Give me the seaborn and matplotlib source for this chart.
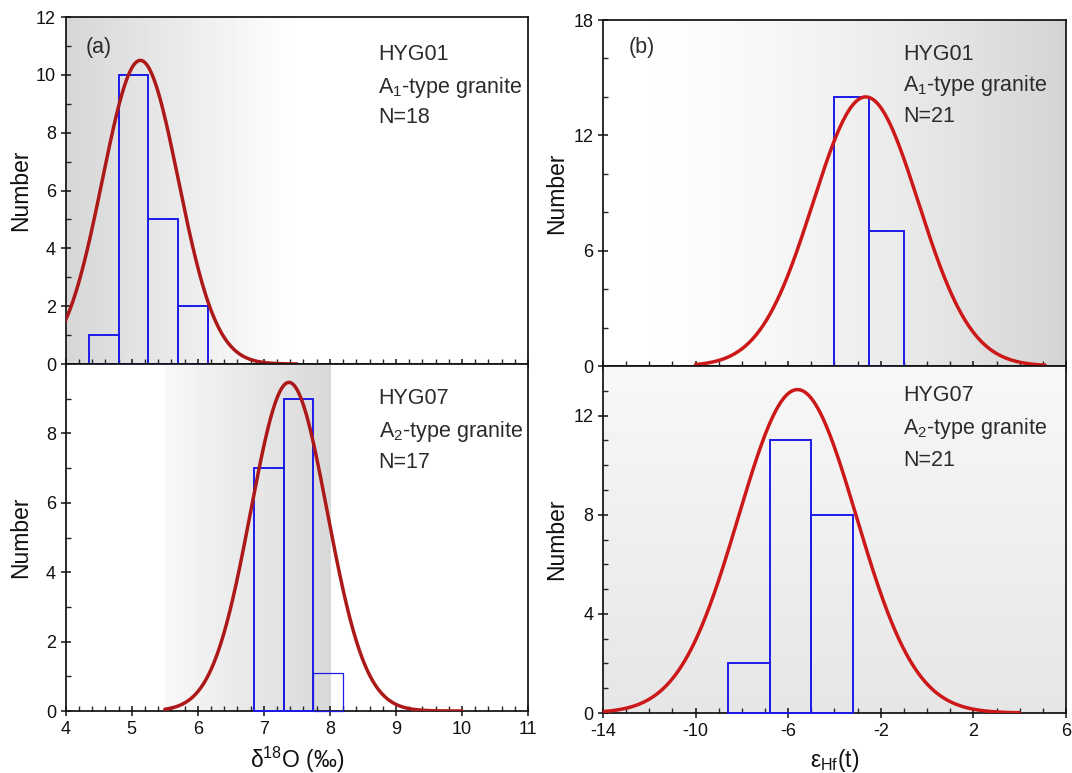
import numpy as np
import pandas as pd
import matplotlib
matplotlib.use("Agg")
import matplotlib.pyplot as plt
import seaborn as sns

# ---------------- data ----------------
# delta18O histograms
o_hyg01_edges = [4.35, 4.80, 5.25, 5.70, 6.15]
o_hyg01_counts = [1, 10, 5, 2]
o_hyg07_edges = [6.85, 7.30, 7.75, 8.20]
o_hyg07_counts = [7, 9, 1.1]
# eHf(t) histograms
hf_hyg01_edges = [-4.0, -2.5, -1.0]
hf_hyg01_counts = [14, 7]
hf_hyg07_edges = [-8.6, -6.8, -5.0, -3.2]
hf_hyg07_counts = [2, 11, 8]

# fitted normal curves: (mean, sd, peak height, x start, x end)
o_hyg01_fit = (5.13, 0.575, 10.5, 3.5, 7.5)
o_hyg07_fit = (7.38, 0.58, 9.47, 5.5, 10.0)
hf_hyg01_fit = (-2.65, 2.28, 14.0, -10.0, 5.1)
hf_hyg07_fit = (-5.6, 2.55, 13.05, -14.0, 4.0)

labels_a1 = ["HYG01", r"A$_1$-type granite", "N=18"]
labels_a2 = ["HYG07", r"A$_2$-type granite", "N=17"]
labels_b1 = ["HYG01", r"A$_1$-type granite", "N=21"]
labels_b2 = ["HYG07", r"A$_2$-type granite", "N=21"]

# ---------------- style ----------------
sns.set_style("ticks")
plt.rcParams["font.family"] = ["Liberation Sans", "DejaVu Sans"]
plt.rcParams["mathtext.fontset"] = "custom"
plt.rcParams["mathtext.rm"] = "Liberation Sans"
plt.rcParams["mathtext.it"] = "Liberation Sans:italic"
plt.rcParams["mathtext.bf"] = "Liberation Sans:bold"
plt.rcParams["axes.unicode_minus"] = False

BAR = "#1c1ce6"
TXT = "#2b2b2b"
TICK_FS = 13
ANN_FS = 15.5
YLAB_FS = 16.5
XLAB_FS = 16.5

fig = plt.figure(figsize=(10.72, 7.73), dpi=100)
ax_a1 = fig.add_axes([0.0613, 0.5291, 0.4313, 0.4489])
ax_a2 = fig.add_axes([0.0613, 0.0802, 0.4313, 0.4489])
ax_b1 = fig.add_axes([0.5625, 0.5265, 0.4319, 0.4476])
ax_b2 = fig.add_axes([0.5625, 0.0776, 0.4319, 0.4489])


def gradient(ax, extent, vals, horizontal=True):
    arr = np.asarray(vals, dtype=float)
    img = arr[None, :] if horizontal else arr[:, None]
    ax.imshow(img, extent=extent, cmap="gray", vmin=0, vmax=1,
              aspect="auto", interpolation="bicubic", zorder=0, origin="upper")


def hist(ax, edges, counts, lw=1.4):
    centers = [(edges[i] + edges[i + 1]) / 2 for i in range(len(counts))]
    df = pd.DataFrame({"x": centers, "w": counts})
    n0 = len(ax.patches)
    sns.histplot(data=df, x="x", weights="w", bins=edges, fill=False,
                 element="bars", color=BAR, linewidth=lw, ax=ax)
    for p in ax.patches[n0:]:
        p.set_edgecolor(BAR)
        p.set_zorder(3)
        p.set_clip_on(False)


def curve(ax, fit, color):
    mu, sd, peak, x0, x1 = fit
    xs = np.linspace(x0, x1, 400)
    ys = peak * np.exp(-0.5 * ((xs - mu) / sd) ** 2)
    sns.lineplot(x=xs, y=ys, color=color, linewidth=2.5, ax=ax, zorder=4)


def texts(ax, lines, xf, yfs):
    for t, yf in zip(lines, yfs):
        ax.text(xf, yf, t, transform=ax.transAxes, fontsize=ANN_FS,
                color=TXT, ha="left", va="center")


def style(ax, xlim, ylim, xmaj, xmin, ymaj, ymin, showx):
    ax.set_xlim(*xlim)
    ax.set_ylim(*ylim)
    ax.set_xticks(xmaj)
    ax.set_xticks(xmin, minor=True)
    ax.set_yticks(ymaj)
    ax.set_yticks(ymin, minor=True)
    ax.tick_params(which="major", direction="inout", length=7, width=1.1,
                   labelsize=TICK_FS, colors="#111111")
    ax.tick_params(which="minor", direction="in", length=3.5, width=1.0)
    if not showx:
        ax.tick_params(axis="x", which="both", labelbottom=False)
    for s in ax.spines.values():
        s.set_linewidth(1.25)
        s.set_color("#111111")
    ax.set_xlabel("")
    ax.set_ylabel("Number", fontsize=YLAB_FS, color="#111111")


# ---------- (a) top: HYG01 delta18O ----------
gradient(ax_a1, [4, 7.5, 0, 12], np.linspace(0.84, 1.0, 64))
hist(ax_a1, o_hyg01_edges, o_hyg01_counts)
curve(ax_a1, o_hyg01_fit, "#ad1818")
style(ax_a1, (4, 11), (0, 12), np.arange(4, 12, 1), np.arange(4, 11.01, 0.2),
      np.arange(0, 13, 2), np.arange(1, 12, 2), False)
texts(ax_a1, labels_a1, 0.676, [0.891, 0.798, 0.710])
ax_a1.text(0.043, 0.913, "(a)", transform=ax_a1.transAxes, fontsize=ANN_FS,
           color=TXT, ha="left", va="center")

# ---------- (a) bottom: HYG07 delta18O ----------
gradient(ax_a2, [5.5, 8.0, 0, 10], np.linspace(0.975, 0.85, 64))
hist(ax_a2, o_hyg07_edges, o_hyg07_counts)
ax_a2.patches[-1].set_linewidth(0.9)
curve(ax_a2, o_hyg07_fit, "#ad1818")
style(ax_a2, (4, 11), (0, 10), np.arange(4, 12, 1), np.arange(4, 11.01, 0.2),
      np.arange(0, 9, 2), np.arange(1, 10, 2), True)
texts(ax_a2, labels_a2, 0.677, [0.902, 0.806, 0.717])
ax_a2.set_xlabel(r"δ$^{18}$O (‰)", fontsize=XLAB_FS, color="#111111", labelpad=5)

# ---------- (b) top: HYG01 eHf ----------
tt = np.linspace(0, 1, 128)
gradient(ax_b1, [-14, 6, 0, 18], 1.0 - 0.17 * tt ** 1.6)
hist(ax_b1, hf_hyg01_edges, hf_hyg01_counts)
curve(ax_b1, hf_hyg01_fit, "#cc1818")
style(ax_b1, (-14, 6), (0, 18), np.arange(-14, 7, 4), np.arange(-14, 6.01, 1),
      np.arange(0, 19, 6), np.arange(0, 19, 2), False)
texts(ax_b1, labels_b1, 0.648, [0.901, 0.810, 0.720])
ax_b1.text(0.056, 0.920, "(b)", transform=ax_b1.transAxes, fontsize=ANN_FS,
           color=TXT, ha="left", va="center")

# ---------- (b) bottom: HYG07 eHf ----------
gradient(ax_b2, [-14, 6, 0, 14], np.linspace(0.97, 0.90, 64), horizontal=False)
hist(ax_b2, hf_hyg07_edges, hf_hyg07_counts)
curve(ax_b2, hf_hyg07_fit, "#cc1818")
style(ax_b2, (-14, 6), (0, 14), np.arange(-14, 7, 4), np.arange(-14, 6.01, 1),
      np.arange(0, 13, 4), np.arange(0, 14, 1), True)
texts(ax_b2, labels_b2, 0.649, [0.914, 0.819, 0.729])
ax_b2.set_xlabel(r"ε$_{\rm Hf}$(t)", fontsize=XLAB_FS, color="#111111", labelpad=5)

for ax in (ax_a1, ax_a2):
    ax.yaxis.set_label_coords(-0.073, 0.5)
for ax in (ax_b1, ax_b2):
    ax.yaxis.set_label_coords(-0.076, 0.5)

fig.savefig("out.png", dpi=100)
